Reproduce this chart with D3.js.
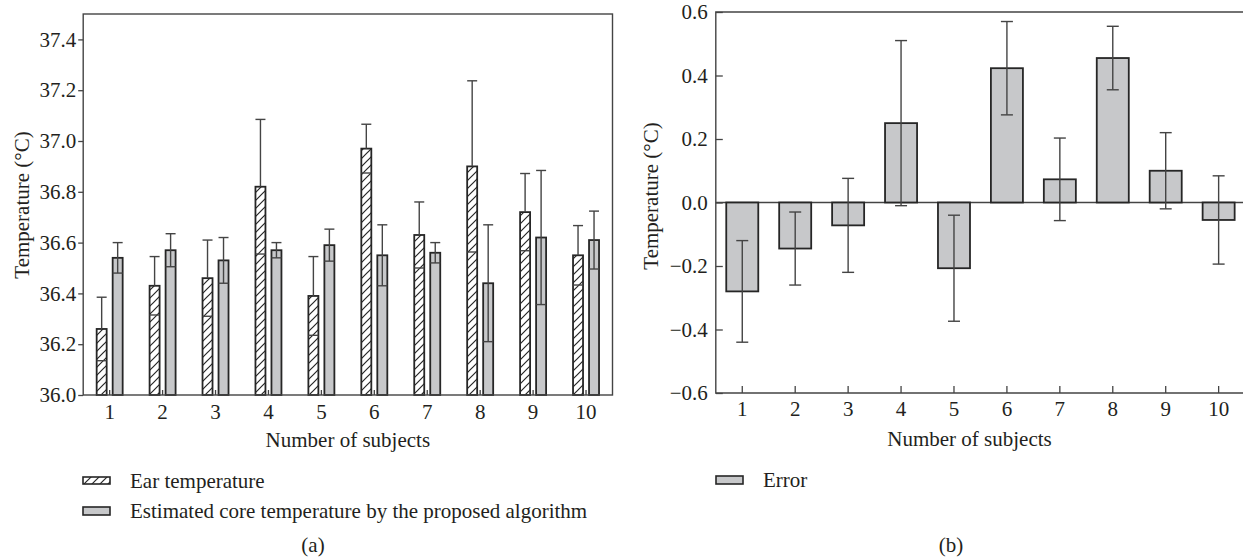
<!DOCTYPE html>
<html>
  <head>
    <meta charset="utf-8">
    <title>Ear temperature vs estimated core temperature</title>
    <style>
      body {
        margin: 0;
        background: #fff;
      }
      text {
        font-family: "Liberation Serif", "DejaVu Serif", serif;
        fill: #231f20;
      }
    </style>
  </head>
  <body>

    <script src="https://d3js.org/d3.v7.min.js"></script>

    <script type="text/javascript">

      // data
      var subjects = ["1", "2", "3", "4", "5", "6", "7", "8", "9", "10"];

      // (a) ear temperature and estimated core temperature, mean and sd
      var earMean = [36.26, 36.43, 36.46, 36.82, 36.39, 36.97, 36.63, 36.90, 36.72, 36.55];
      var earSD = [0.125, 0.115, 0.15, 0.265, 0.155, 0.096, 0.13, 0.337, 0.152, 0.117];
      var coreMean = [36.54, 36.57, 36.53, 36.57, 36.59, 36.55, 36.56, 36.44, 36.62, 36.61];
      var coreSD = [0.06, 0.065, 0.09, 0.03, 0.063, 0.12, 0.04, 0.23, 0.264, 0.114];

      // (b) error, mean and sd
      var errMean = [-0.28, -0.145, -0.072, 0.25, -0.207, 0.423, 0.073, 0.455, 0.10, -0.055];
      var errSD = [0.16, 0.115, 0.148, 0.26, 0.167, 0.147, 0.13, 0.10, 0.12, 0.139];

      var ticksA = [36.0, 36.2, 36.4, 36.6, 36.8, 37.0, 37.2, 37.4];
      var ticksB = [-0.6, -0.4, -0.2, 0.0, 0.2, 0.4, 0.6];

      var w = 1243;
      var h = 559;
      var axisColor = "#444";
      var barStroke = "#262626";
      var grayFill = "#c7c8ca";
      var fontSize = "21px";

      var svg = d3.select("body")
        .append("svg")
        .attr("width", w)
        .attr("height", h);

      // diagonal hatch for the ear temperature bars
      var defs = svg.append("defs");
      defs.append("pattern")
        .attr("id", "hatch")
        .attr("patternUnits", "userSpaceOnUse")
        .attr("width", 8)
        .attr("height", 8)
        .append("path")
        .attr("d", "M-2,2 L2,-2 M0,8 L8,0 M6,10 L10,6")
        .attr("stroke", barStroke)
        .attr("stroke-width", 1.2);

      // ---------- chart (a) ----------
      var leftA = 83.2, rightA = 612.5, topA = 14, bottomA = 395;

      var xA = d3.scaleBand()
        .domain(subjects)
        .range([leftA, rightA]);

      var xSub = d3.scaleBand()
        .domain(["ear", "core"])
        .range([-13, 13])
        .paddingInner(0.375);

      var yA = d3.scaleLinear()
        .domain([36, 37.5])
        .range([bottomA, topA]);

      var gA = svg.append("g");

      // ear bars (hatched)
      gA.selectAll(".ear")
        .data(subjects)
        .enter()
        .append("rect")
        .attr("class", "ear")
        .attr("x", function(d) { return xA(d) + xA.bandwidth() / 2 + xSub("ear"); })
        .attr("y", function(d, i) { return yA(earMean[i]); })
        .attr("width", xSub.bandwidth())
        .attr("height", function(d, i) { return yA(36) - yA(earMean[i]); })
        .attr("fill", "url(#hatch)")
        .attr("stroke", barStroke)
        .attr("stroke-width", 1.8);

      // core bars (gray)
      gA.selectAll(".core")
        .data(subjects)
        .enter()
        .append("rect")
        .attr("class", "core")
        .attr("x", function(d) { return xA(d) + xA.bandwidth() / 2 + xSub("core"); })
        .attr("y", function(d, i) { return yA(coreMean[i]); })
        .attr("width", xSub.bandwidth())
        .attr("height", function(d, i) { return yA(36) - yA(coreMean[i]); })
        .attr("fill", grayFill)
        .attr("stroke", barStroke)
        .attr("stroke-width", 1.8);

      // error bars: hatched bars only show the upper whisker line
      function errorBar(g, cx, yScale, m, s, capW, fullLine) {
        var top = yScale(m + s), bot = yScale(m - s);
        g.append("line")
          .attr("x1", cx).attr("x2", cx)
          .attr("y1", top).attr("y2", fullLine ? bot : yScale(m))
          .attr("stroke", axisColor).attr("stroke-width", 1.4);
        [top, bot].forEach(function(y) {
          g.append("line")
            .attr("x1", cx - capW / 2).attr("x2", cx + capW / 2)
            .attr("y1", y).attr("y2", y)
            .attr("stroke", axisColor).attr("stroke-width", 1.4);
        });
      }

      subjects.forEach(function(d, i) {
        var c = xA(d) + xA.bandwidth() / 2;
        errorBar(gA, c + xSub("ear") + xSub.bandwidth() / 2, yA, earMean[i], earSD[i], xSub.bandwidth(), false);
        errorBar(gA, c + xSub("core") + xSub.bandwidth() / 2, yA, coreMean[i], coreSD[i], xSub.bandwidth(), true);
      });

      // axes of (a)
      var yAxisA = d3.axisLeft(yA)
        .tickValues(ticksA)
        .tickFormat(d3.format(".1f"))
        .tickSize(5)
        .tickPadding(2);

      var xAxisA = d3.axisBottom(xA)
        .tickSize(-5)
        .tickPadding(9);

      svg.append("g")
        .attr("transform", "translate(" + leftA + ",0)")
        .call(yAxisA);

      svg.append("g")
        .attr("transform", "translate(0," + bottomA + ")")
        .call(xAxisA);

      // frame around (a)
      svg.append("rect")
        .attr("x", leftA)
        .attr("y", topA)
        .attr("width", rightA - leftA)
        .attr("height", bottomA - topA)
        .attr("fill", "none")
        .attr("stroke", axisColor)
        .attr("stroke-width", 1.4);

      svg.append("text")
        .attr("x", (leftA + rightA) / 2)
        .attr("y", 440)
        .attr("text-anchor", "middle")
        .attr("dominant-baseline", "central")
        .style("font-size", fontSize)
        .text("Number of subjects");

      svg.append("text")
        .attr("transform", "translate(22,205) rotate(-90)")
        .attr("text-anchor", "middle")
        .attr("dominant-baseline", "central")
        .style("font-size", fontSize)
        .text("Temperature (°C)");

      // legend (a)
      svg.append("rect")
        .attr("x", 83).attr("y", 477)
        .attr("width", 27).attr("height", 7)
        .attr("fill", "url(#hatch)")
        .attr("stroke", barStroke).attr("stroke-width", 1.6);

      svg.append("text")
        .attr("x", 130).attr("y", 481)
        .attr("dominant-baseline", "central")
        .style("font-size", fontSize)
        .text("Ear temperature");

      svg.append("rect")
        .attr("x", 83).attr("y", 507)
        .attr("width", 27).attr("height", 8)
        .attr("fill", grayFill)
        .attr("stroke", barStroke).attr("stroke-width", 1.6);

      svg.append("text")
        .attr("x", 130).attr("y", 511)
        .attr("dominant-baseline", "central")
        .style("font-size", fontSize)
        .text("Estimated core temperature by the proposed algorithm");

      svg.append("text")
        .attr("x", 313).attr("y", 545)
        .attr("text-anchor", "middle")
        .attr("dominant-baseline", "central")
        .style("font-size", fontSize)
        .text("(a)");

      // ---------- chart (b) ----------
      var leftB = 715.8, rightB = 1245.1, topB = 12, bottomB = 393;

      var xB = d3.scaleBand()
        .domain(subjects)
        .range([leftB, rightB])
        .paddingInner(0.395)
        .paddingOuter(0.1975);

      var yB = d3.scaleLinear()
        .domain([-0.6, 0.6])
        .range([bottomB, topB]);

      var gB = svg.append("g");

      // zero line
      gB.append("line")
        .attr("x1", leftB).attr("x2", w)
        .attr("y1", yB(0)).attr("y2", yB(0))
        .attr("stroke", axisColor).attr("stroke-width", 1.3);

      gB.selectAll(".err")
        .data(subjects)
        .enter()
        .append("rect")
        .attr("class", "err")
        .attr("x", function(d) { return xB(d); })
        .attr("y", function(d, i) { return yB(Math.max(0, errMean[i])); })
        .attr("width", xB.bandwidth())
        .attr("height", function(d, i) { return Math.abs(yB(errMean[i]) - yB(0)); })
        .attr("fill", grayFill)
        .attr("stroke", barStroke)
        .attr("stroke-width", 1.8);

      subjects.forEach(function(d, i) {
        errorBar(gB, xB(d) + xB.bandwidth() / 2, yB, errMean[i], errSD[i], 12, true);
      });

      var yAxisB = d3.axisLeft(yB)
        .tickValues(ticksB)
        .tickFormat(d3.format(".1f"))
        .tickSize(-7)
        .tickPadding(8);

      var xAxisB = d3.axisBottom(xB)
        .tickSize(-7)
        .tickPadding(8);

      svg.append("g")
        .attr("transform", "translate(" + leftB + ",0)")
        .call(yAxisB);

      svg.append("g")
        .attr("transform", "translate(0," + bottomB + ")")
        .call(xAxisB);

      // open frame of (b): top, left, bottom
      svg.append("path")
        .attr("d", "M" + w + "," + topB + " H" + leftB + " V" + bottomB + " H" + w)
        .attr("fill", "none")
        .attr("stroke", axisColor)
        .attr("stroke-width", 1.4);

      svg.append("text")
        .attr("x", 969.5)
        .attr("y", 439)
        .attr("text-anchor", "middle")
        .attr("dominant-baseline", "central")
        .style("font-size", fontSize)
        .text("Number of subjects");

      svg.append("text")
        .attr("transform", "translate(651,196) rotate(-90)")
        .attr("text-anchor", "middle")
        .attr("dominant-baseline", "central")
        .style("font-size", fontSize)
        .text("Temperature (°C)");

      // legend (b)
      svg.append("rect")
        .attr("x", 716).attr("y", 476)
        .attr("width", 27).attr("height", 8)
        .attr("fill", grayFill)
        .attr("stroke", barStroke).attr("stroke-width", 1.6);

      svg.append("text")
        .attr("x", 763).attr("y", 480)
        .attr("dominant-baseline", "central")
        .style("font-size", fontSize)
        .text("Error");

      svg.append("text")
        .attr("x", 951).attr("y", 545)
        .attr("text-anchor", "middle")
        .attr("dominant-baseline", "central")
        .style("font-size", fontSize)
        .text("(b)");

      // common axis styling
      svg.selectAll(".domain").remove();
      svg.selectAll(".tick line")
        .attr("stroke", axisColor)
        .attr("stroke-width", 1.3);
      svg.selectAll(".tick text")
        .attr("fill", "#231f20")
        .style("font-size", fontSize)
        .style("font-family", "'Liberation Serif', 'DejaVu Serif', serif");

    </script>

  </body>
</html>
